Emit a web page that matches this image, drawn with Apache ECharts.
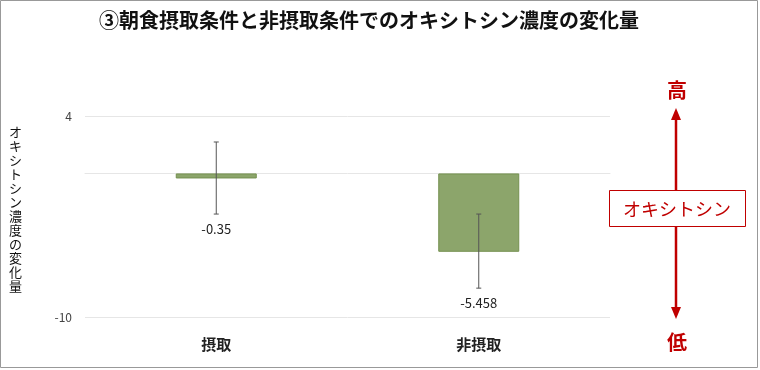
<!DOCTYPE html>
<html><head><meta charset="utf-8">
<script src="https://cdn.jsdelivr.net/npm/echarts@6/dist/echarts.min.js"></script>
<style>html,body{margin:0;padding:0;background:#fff}#c{width:760px;height:370px}</style>
</head><body><div id="c"></div>
<script>
const categories = ['摂取', '非摂取'];
const values = [-0.35, -5.458];
const errLow = [-2.83, -7.99];
const errHigh = [2.19, -2.83];
const valueLabels = ['-0.35', '-5.458'];
const titleText = '③朝食摂取条件と非摂取条件でのオキシトシン濃度の変化量';
const yName = 'オキシトシン濃度の変化量';
const yMin = -10, yMax = 4;

const chart = echarts.init(document.getElementById('c'));
const FONT = '"Noto Sans CJK JP", sans-serif';
const RED = '#c00000';
chart.setOption({
  animation: false,
  title: { text: titleText, left: 364, top: 5, textAlign: 'center',
    textStyle: { fontFamily: FONT, fontSize: 20, fontWeight: 'bold', color: '#111' } },
  grid: { left: 85, right: 150, top: 116, bottom: 53 },
  xAxis: { type: 'category', data: categories,
    axisLine: { onZero: true, lineStyle: { color: '#e6e6e6' } }, axisTick: { show: false },
    axisLabel: { fontFamily: FONT, fontSize: 15, color: '#222', fontWeight: 'bold', margin: 20 },
  },
  yAxis: { type: 'value', min: yMin, max: yMax, interval: 14,
    axisLine: { show: false }, axisTick: { show: false },
    splitLine: { lineStyle: { color: '#e6e6e6' } },
    axisLabel: { fontFamily: FONT, fontSize: 12, color: '#444', margin: 13 } },
  series: [
    { type: 'bar', data: values, barWidth: 81,
      itemStyle: { color: '#8ca56b', borderColor: '#74904f', borderWidth: 1 } },
    { type: 'custom', data: categories.map((c, i) => [i, errLow[i], errHigh[i], values[i]]),
      renderItem: (params, api) => {
        const lo = api.coord([api.value(0), api.value(1)]);
        const hi = api.coord([api.value(0), api.value(2)]);
        const st = { stroke: '#555', lineWidth: 1 };
        return { type: 'group', children: [
          { type: 'line', shape: { x1: lo[0], y1: lo[1], x2: hi[0], y2: hi[1] }, style: st },
          { type: 'line', shape: { x1: lo[0]-2.5, y1: lo[1], x2: lo[0]+2.5, y2: lo[1] }, style: st },
          { type: 'line', shape: { x1: hi[0]-2.5, y1: hi[1], x2: hi[0]+2.5, y2: hi[1] }, style: st },
          { type: 'text', x: lo[0], y: lo[1] + 15, style: { text: valueLabels[params.dataIndex],
            align: 'center', verticalAlign: 'middle', font: '13px ' + FONT, fill: '#222' } }
        ] };
      }, z: 5 }
  ],
  graphic: [
    { type: 'rect', shape: { x: 0.5, y: 0.5, width: 757, height: 367 }, style: { fill: 'none', stroke: '#999', lineWidth: 1 } },
    { type: 'text', left: 9, top: 125, style: { text: yName.split('').join('\n'), font: '13px ' + FONT, fill: '#111', lineHeight: 14 } },
    { type: 'text', x: 677, y: 90, style: { text: '高', font: 'bold 20px ' + FONT, fill: RED, align: 'center', verticalAlign: 'middle' } },
    { type: 'text', x: 677, y: 342, style: { text: '低', font: 'bold 20px ' + FONT, fill: RED, align: 'center', verticalAlign: 'middle' } },
    { type: 'line', shape: { x1: 676, y1: 118, x2: 676, y2: 310 }, style: { stroke: RED, lineWidth: 2.5 } },
    { type: 'polygon', shape: { points: [[676, 108], [671, 120], [681, 120]] }, style: { fill: RED } },
    { type: 'polygon', shape: { points: [[676, 319], [671, 307], [681, 307]] }, style: { fill: RED } },
    { type: 'rect', shape: { x: 609.5, y: 190.5, width: 136, height: 36 }, style: { fill: '#fff', stroke: RED, lineWidth: 1 }, z: 10 },
    { type: 'text', x: 677, y: 209, style: { text: 'オキシトシン', font: '18px ' + FONT, fill: RED, align: 'center', verticalAlign: 'middle' }, z: 11 }
  ]
});
</script></body></html>
